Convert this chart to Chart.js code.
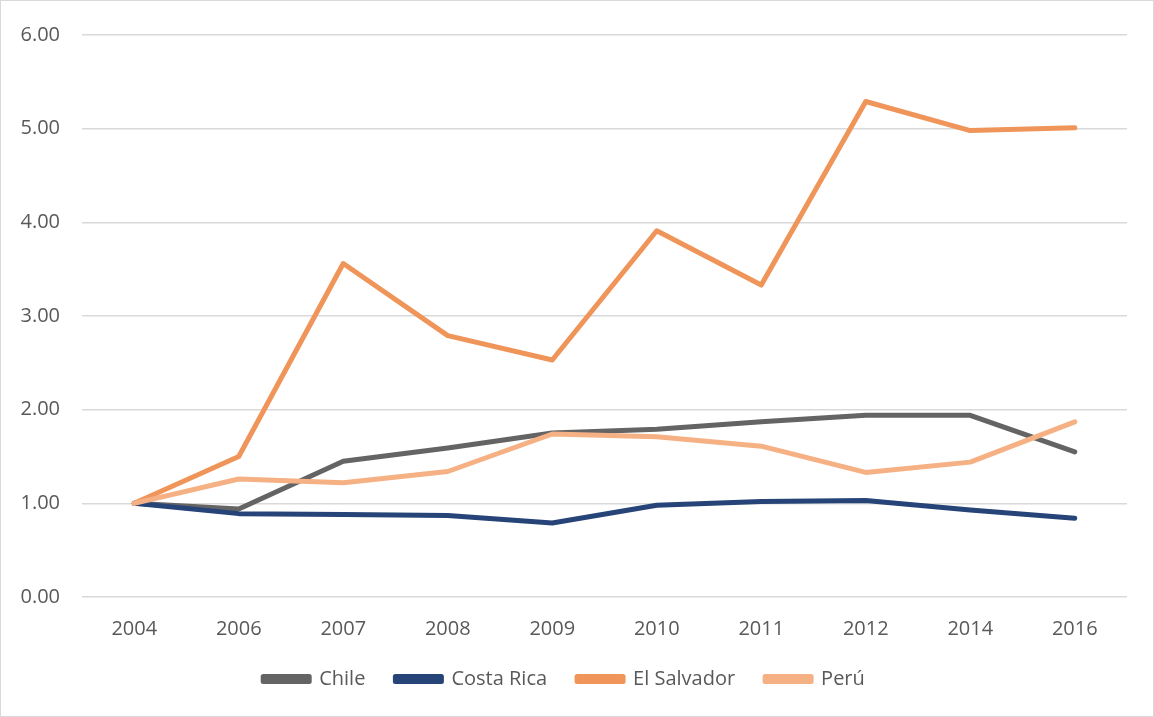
<!DOCTYPE html>
<html>
<head>
<meta charset="utf-8">
<script src="https://cdn.jsdelivr.net/npm/chart.js@4.4.1/dist/chart.umd.min.js"></script>
<style>
  html, body { margin: 0; padding: 0; background: #fff; }
  #wrap { width: 1152px; height: 715px; border: 1px solid #d9d9d9; }
</style>
</head>
<body>
<div id="wrap"><canvas id="chart" width="1152" height="715"></canvas></div>
<script>
// Datos
const years = ['2004', '2006', '2007', '2008', '2009', '2010', '2011', '2012', '2014', '2016'];
const chile = [1.00, 0.94, 1.45, 1.59, 1.75, 1.79, 1.87, 1.94, 1.94, 1.55];
const costaRica = [1.00, 0.89, 0.88, 0.87, 0.79, 0.98, 1.02, 1.03, 0.93, 0.84];
const elSalvador = [1.00, 1.50, 3.56, 2.79, 2.53, 3.91, 3.33, 5.29, 4.98, 5.01];
const peru = [1.00, 1.26, 1.22, 1.34, 1.74, 1.71, 1.61, 1.33, 1.44, 1.87];

const textColor = '#595959';
const font = { family: '"Open Sans", sans-serif', size: 20 };

function serie(label, data, color, order) {
  return {
    label: label,
    data: data,
    borderColor: color,
    backgroundColor: color,
    borderWidth: 5,
    pointRadius: 0,
    tension: 0,
    borderCapStyle: 'round',
    borderJoinStyle: 'round',
    order: order
  };
}

new Chart(document.getElementById('chart').getContext('2d'), {
  type: 'line',
  data: {
    labels: years,
    datasets: [
      serie('Chile', chile, '#646464', 4),
      serie('Costa Rica', costaRica, '#264478', 3),
      serie('El Salvador', elSalvador, '#f0955a', 2),
      serie('Perú', peru, '#f5b183', 1)
    ]
  },
  options: {
    responsive: false,
    animation: false,
    layout: { padding: { top: 27, right: 26, bottom: 17, left: 0 } },
    plugins: {
      tooltip: { enabled: false },
      legend: {
        position: 'bottom',
        labels: {
          color: textColor,
          font: font,
          boxWidth: 46,
          boxHeight: 5,
          padding: 30,
          sort: (a, b) => a.datasetIndex - b.datasetIndex
        }
      }
    },
    scales: {
      x: {
        offset: true,
        grid: { display: false },
        border: { display: false },
        ticks: { color: textColor, font: font, padding: 12, maxRotation: 0 },
        afterFit: (scale) => { scale.height = 42; }
      },
      y: {
        min: 0,
        max: 6,
        ticks: {
          stepSize: 1,
          color: textColor,
          font: font,
          padding: 22,
          callback: (v) => Number(v).toFixed(2)
        },
        grid: { color: '#d9d9d9', lineWidth: 1.5, drawTicks: false },
        border: { display: false },
        afterFit: (scale) => { scale.width = 81; }
      }
    }
  }
});
</script>
</body>
</html>
